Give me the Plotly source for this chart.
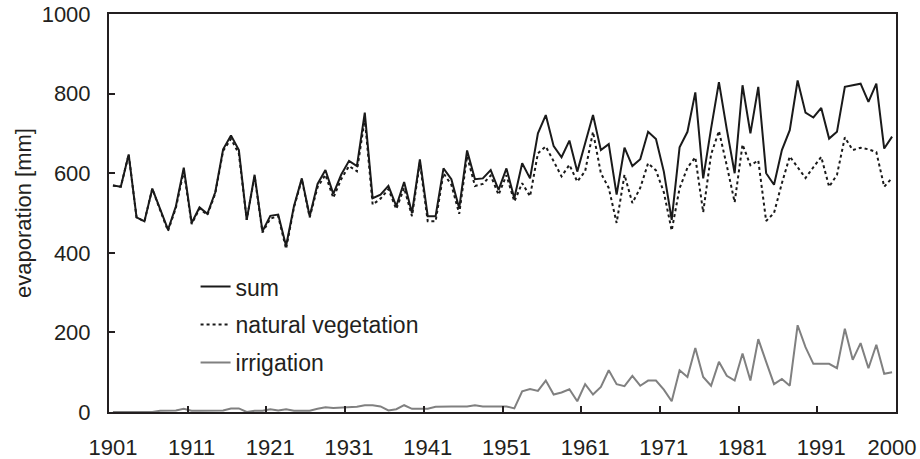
import plotly.graph_objects as go

# yearly evaporation, 1901-2000 [mm]
years = list(range(1901, 2001))

evap_sum = [
    569, 566, 647, 489, 479, 561, 510, 458, 517, 614,
    475, 514, 498, 552, 660, 695, 658, 483, 596, 454,
    493, 496, 417, 517, 587, 492, 573, 608, 548, 596,
    631, 618, 752, 537, 546, 568, 517, 578, 500, 635,
    492, 492, 612, 585, 512, 657, 585, 587, 608, 558,
    612, 537, 625, 587, 700, 746, 668, 640, 682, 604,
    675, 746, 658, 673, 546, 664, 618, 635, 704, 686,
    604, 483, 665, 704, 803, 587, 712, 829, 710, 600,
    821, 700, 817, 600, 571, 658, 708, 833, 752, 740,
    764, 687, 704, 817, 821, 825, 779, 825, 662, 692,
]

evap_natural = [
    569, 566, 647, 489, 479, 561, 507, 455, 513, 606,
    472, 511, 495, 549, 656, 686, 649, 483, 593, 451,
    486, 492, 410, 514, 584, 489, 565, 596, 538, 585,
    618, 605, 737, 521, 536, 560, 510, 563, 492, 627,
    479, 479, 600, 571, 498, 643, 568, 573, 594, 546,
    595, 529, 575, 542, 650, 667, 630, 592, 621, 579,
    605, 704, 600, 563, 475, 596, 525, 563, 625, 607,
    552, 456, 562, 614, 640, 502, 647, 706, 619, 527,
    672, 620, 632, 480, 500, 575, 642, 615, 588, 615,
    641, 566, 596, 690, 658, 664, 660, 653, 566, 588,
]

evap_irrigation = [
    0, 0, 0, 0, 0, 0, 3, 3, 4, 8,
    3, 3, 3, 3, 4, 9, 9, 0, 3, 3,
    7, 4, 7, 3, 3, 3, 8, 12, 10, 11,
    13, 13, 17, 17, 14, 4, 7, 17, 8, 8,
    8, 13, 14, 14, 14, 14, 17, 14, 14, 14,
    14, 9, 52, 58, 53, 79, 44, 49, 57, 27,
    70, 44, 63, 105, 70, 65, 91, 66, 79, 79,
    56, 27, 105, 88, 161, 88, 66, 126, 91, 79,
    147, 79, 183, 126, 70, 83, 66, 218, 163, 121,
    121, 121, 110, 209, 131, 173, 110, 169, 96, 100,
]

tick_years = [1901, 1911, 1921, 1931, 1941, 1951, 1961, 1971, 1981, 1991, 2000]

font_family = "Liberation Sans, Arial, sans-serif"

fig = go.Figure()
fig.add_trace(go.Scatter(x=years, y=evap_sum, mode="lines", name="sum",
                         legendgroup="a",
                         line=dict(color="#1a1a1a", width=2)))
fig.add_trace(go.Scatter(x=years, y=evap_natural, mode="lines", name="natural vegetation",
                         legendgroup="b",
                         line=dict(color="#1a1a1a", width=2, dash="dot")))
fig.add_trace(go.Scatter(x=years, y=evap_irrigation, mode="lines", name="irrigation",
                         legendgroup="c",
                         line=dict(color="#808080", width=2)))

fig.update_layout(
    width=920, height=459,
    margin=dict(l=109, r=24, t=14, b=47),
    paper_bgcolor="white", plot_bgcolor="white",
    font=dict(family=font_family, size=22, color="#231f20"),
    legend=dict(x=0.11, y=0.369, xanchor="left", yanchor="top",
                bgcolor="rgba(0,0,0,0)", font=dict(size=23),
                tracegroupgap=5, itemwidth=30),
    showlegend=True,
)

fig.update_xaxes(
    range=[1900.5, 2000.5], automargin=False,
    tickmode="array", tickvals=tick_years, ticktext=[str(y) for y in tick_years],
    ticks="", ticklabelstandoff=15, ticklabeloverflow="allow",
    minor=dict(tickmode="array",
               tickvals=[1910.5, 1920.5, 1930.5, 1940.5, 1950.5, 1960.5, 1970.5, 1980.5, 1990.5],
               ticks="inside", ticklen=6, tickwidth=2, tickcolor="#231f20", showgrid=False),
    showline=True, linecolor="#231f20", linewidth=2, mirror=True,
    showgrid=False, zeroline=False,
)

fig.update_yaxes(
    range=[0, 1000], dtick=200, automargin=False,
    ticks="inside", ticklen=6, tickwidth=2, tickcolor="#231f20",
    ticklabelstandoff=12, ticklabeloverflow="allow",
    title=dict(text="evaporation [mm]", font=dict(size=22), standoff=4),
    showline=True, linecolor="#231f20", linewidth=2, mirror=True,
    showgrid=False, zeroline=False,
)

# drop the default 8px page margin so the figure fills the window exactly
fig.write_html("out.html", config={"displayModeBar": False},
               post_script="document.body.style.margin='0px';")
